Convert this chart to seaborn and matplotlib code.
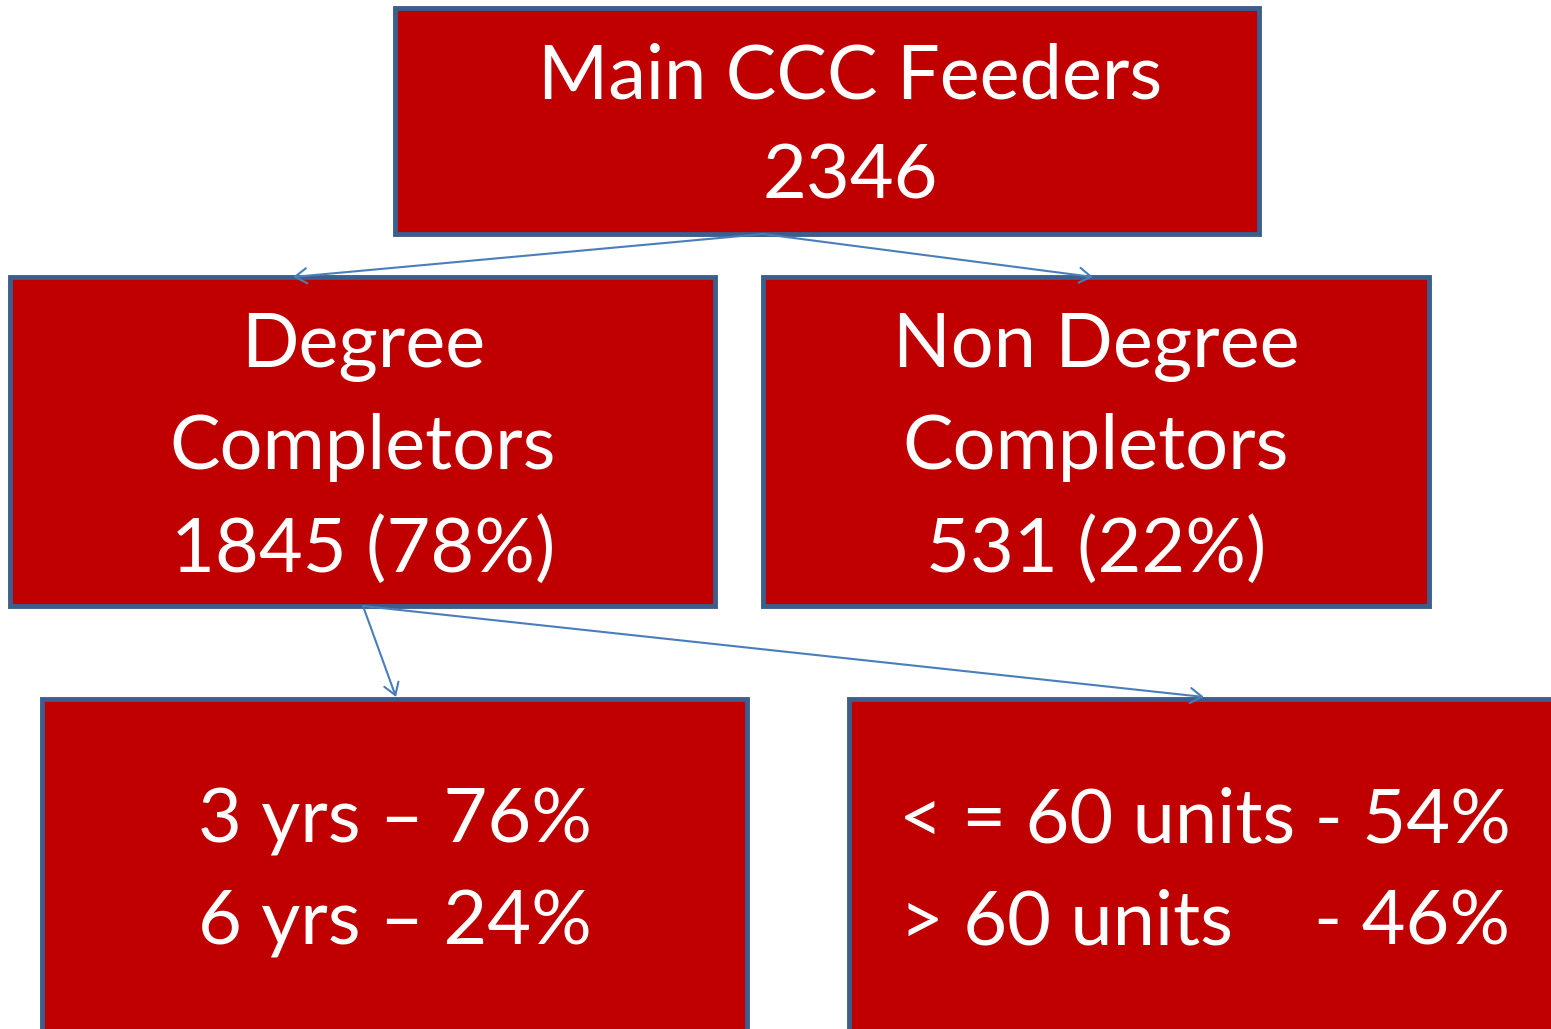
import matplotlib
matplotlib.use("Agg")
import matplotlib.pyplot as plt
import seaborn as sns
from matplotlib.patches import Rectangle

# data
total_label = "Main CCC Feeders"
total_count = 2346
group_names = ["Degree\nCompletors", "Non Degree\nCompletors"]
group_counts = [1845, 531]
group_pcts = [78, 22]
years_labels = ["3 yrs", "6 yrs"]
years_pcts = [76, 24]
units_labels = ["< = 60 units", "> 60 units"]
units_pcts = [54, 46]

sns.set_theme(style="white")
plt.rcParams['font.family'] = ['Lato', 'DejaVu Sans']

FILL = "#C00000"
EDGE = "#3B5E8C"
ARROW = "#4A7EBB"

fig = plt.figure(figsize=(15.51, 10.29), dpi=100)
ax = fig.add_axes([0, 0, 1, 1])
ax.set_xlim(0, 1551)
ax.set_ylim(1029, 0)
ax.axis("off")


def box(x0, y0, x1, y1):
    ax.add_patch(Rectangle((x0, y0), x1 - x0, y1 - y0, facecolor=FILL,
                           edgecolor=EDGE, linewidth=3.5, zorder=2))


def arrow(x0, y0, x1, y1):
    ax.annotate("", xy=(x1, y1), xytext=(x0, y0),
                arrowprops=dict(arrowstyle="->,head_length=0.7,head_width=0.45",
                                color=ARROW, lw=1.5, shrinkA=0, shrinkB=0),
                zorder=3)


txt = dict(color="white", fontsize=54.5, va="center", zorder=4)
dy = 5

# top box
box(395, 8, 1259, 234)
ax.text(850, 72 + dy, total_label, ha="center", **txt)
ax.text(850, 172 + dy, str(total_count), ha="center", **txt)

# second row
box(10, 277, 715, 606)
box(763, 277, 1429, 606)
for cx, name, n, p in zip([363, 1096], group_names, group_counts, group_pcts):
    l1, l2 = name.split("\n")
    ax.text(cx, 342 + dy, l1, ha="center", **txt)
    ax.text(cx, 443 + dy, l2, ha="center", **txt)
    ax.text(cx, 545 + dy, f"{n} ({p}%)", ha="center", **txt)

# third row
box(42, 699, 747, 1040)
box(849, 699, 1570, 1040)
for y, lab, p in zip([816, 918], years_labels, years_pcts):
    ax.text(395, y + dy, f"{lab} \u2013 {p}%", ha="center", **txt)
ax.text(1205, 816 + dy, f"{units_labels[0]} - {units_pcts[0]}%", ha="center", **txt)
ax.text(900, 918 + dy, units_labels[1], ha="left", **txt)
ax.text(1510, 918 + dy, f"- {units_pcts[1]}%", ha="right", **txt)

# connectors
arrow(763, 234, 293, 277)
arrow(763, 234, 1093, 277)
arrow(363, 606, 396, 697)
arrow(363, 606, 1204, 697)

fig.savefig("out.png", dpi=100, facecolor="white")
